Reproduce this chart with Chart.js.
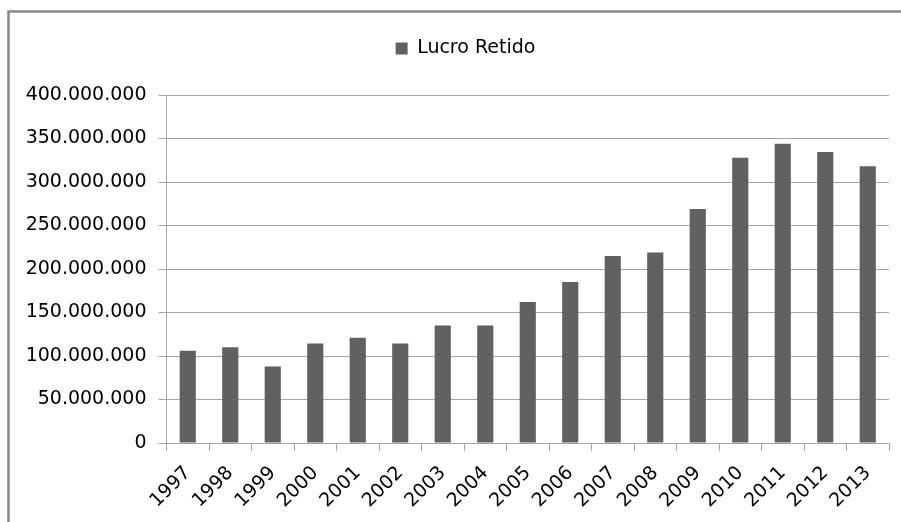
<!DOCTYPE html>
<html>
<head>
<meta charset="utf-8">
<script src="https://cdn.jsdelivr.net/npm/chart.js@4.4.0/dist/chart.umd.min.js"></script>
<style>
  body { margin: 0; background: #fff; }
</style>
</head>
<body>
<canvas id="BarChart" width="901" height="522"></canvas>
<script>
// values
const anos = ['1997', '1998', '1999', '2000', '2001', '2002', '2003', '2004', '2005',
              '2006', '2007', '2008', '2009', '2010', '2011', '2012', '2013'];
const lucroRetido = [106000000, 110000000, 88000000, 114500000, 121000000, 114500000,
                     135000000, 135000000, 162000000, 185000000, 215000000, 219000000,
                     269000000, 328000000, 344000000, 334500000, 318000000];
const yTicks = [0, 50000000, 100000000, 150000000, 200000000, 250000000, 300000000, 350000000, 400000000];

const fonte = 'DejaVu Sans';
const cinza = '#a6a6a6';

// dots as thousand separators, like the original
const formatar = v => String(v).replace(/\B(?=(\d{3})+(?!\d))/g, '.');

// outer frame of the chart (cropped at right and bottom in the reference)
const moldura = {
    id: 'moldura',
    beforeDraw(chart) {
        const ctx = chart.ctx;
        ctx.save();
        ctx.fillStyle = '#fff';
        ctx.fillRect(0, 0, chart.width, chart.height);
        ctx.strokeStyle = '#888';
        ctx.lineWidth = 2.5;
        ctx.strokeRect(8.5, 11.5, 1000, 1000);
        ctx.restore();
    }
};

// more room under the legend, and legend a bit right of the canvas centre
const ajusteLegenda = {
    id: 'ajusteLegenda',
    beforeLayout(chart) {
        const leg = chart.legend;
        if (leg && !leg._fitOriginal) {
            leg._fitOriginal = leg.fit;
            leg.fit = function () {
                this._fitOriginal();
                this.height += 27;
            };
        }
    },
    afterLayout(chart) {
        const leg = chart.legend;
        if (leg) {
            leg.left += 21;
            leg.right += 21;
        }
    }
};

const ctx = document.getElementById('BarChart').getContext('2d');
new Chart(ctx, {
    type: 'bar',
    data: {
        labels: anos,
        datasets: [{
            label: 'Lucro Retido',
            data: lucroRetido,
            backgroundColor: '#616161',
            borderWidth: 0,
            barPercentage: 0.38,
            categoryPercentage: 1
        }]
    },
    options: {
        responsive: false,
        animation: false,
        devicePixelRatio: 1,
        layout: { padding: { left: 0, right: 12, top: 25, bottom: 0 } },
        plugins: {
            tooltip: { enabled: false },
            legend: {
                position: 'top',
                labels: {
                    color: '#000',
                    font: { family: fonte, size: 19 },
                    boxWidth: 12,
                    boxHeight: 12,
                    padding: 14
                }
            }
        },
        scales: {
            x: {
                grid: {
                    drawOnChartArea: false,
                    drawTicks: true,
                    tickLength: 8,
                    color: cinza
                },
                border: { color: cinza, width: 1 },
                ticks: {
                    color: '#000',
                    font: { family: fonte, size: 19 },
                    minRotation: 45,
                    maxRotation: 45,
                    autoSkip: false,
                    padding: 11
                },
                afterFit(scale) { scale.height = 79; }
            },
            y: {
                min: 0,
                max: 400000000,
                afterBuildTicks(scale) { scale.ticks = yTicks.map(v => ({ value: v })); },
                grid: {
                    color: cinza,
                    tickLength: 8
                },
                border: { color: cinza, width: 1 },
                ticks: {
                    color: '#000',
                    font: { family: fonte, size: 19 },
                    padding: 12,
                    callback: v => formatar(v)
                },
                afterFit(scale) { scale.width = 166.5; }
            }
        }
    },
    plugins: [moldura, ajusteLegenda]
});
</script>
</body>
</html>
